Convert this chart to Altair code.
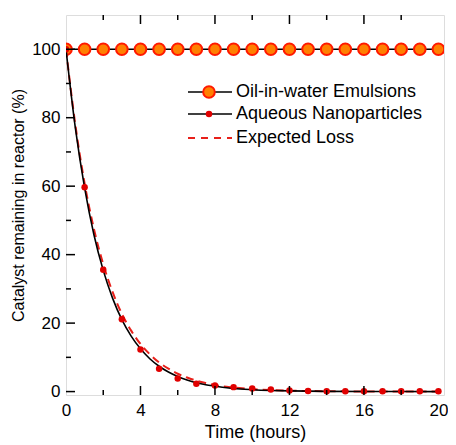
import altair as alt
import pandas as pd

# ---- data ----
hours = list(range(0, 21))
emulsion = [100] * 21
nano_pts = [100, 59.7, 35.6, 21.1, 12.3, 6.7, 3.8, 2.3, 1.8, 1.3, 0.9, 0.6, 0.3, 0.2,
            0.1, 0.1, 0.1, 0.1, 0.1, 0.1, 0.1]

curve_t = [0, 0.5, 1, 1.5, 2, 2.5, 3, 3.5, 4, 4.5, 5, 5.5, 6, 6.5, 7, 7.5, 8,
           9, 10, 11, 12, 13, 14, 16, 18, 20]
fit_curve = [100, 77.1, 59.5, 45.8, 35.4, 27.3, 21.0, 16.2, 12.5, 9.6, 7.4, 5.7,
             4.4, 3.4, 2.6, 2.0, 1.6, 0.9, 0.55, 0.33, 0.2, 0.12, 0.07, 0.03, 0.01, 0.0]
expected = [100, 78.0, 60.8, 47.5, 37.2, 29.1, 22.7, 17.8, 13.9, 10.9, 8.5, 6.7,
            5.2, 4.1, 3.2, 2.5, 1.9, 1.2, 0.72, 0.44, 0.27, 0.16, 0.1, 0.04, 0.01, 0.0]

series_names = ["Oil-in-water Emulsions", "Aqueous Nanoparticles", "Expected Loss"]
x_major = [0, 4, 8, 12, 16, 20]
x_minor = [2, 6, 10, 14, 18]
y_major = [0, 20, 40, 60, 80, 100]
y_minor = [10, 30, 50, 70, 90]

W, H = 378, 380
FONT = "Liberation Sans"
ORANGE = "#FF8000"
RED = "#FF1A00"
DOT = "#E00000"
DASH = "#E8201A"

pts = pd.DataFrame({"t": hours, "emul": emulsion, "nano": nano_pts})
crv = pd.DataFrame({"t": curve_t, "fit": fit_curve, "exp": expected})

xs = alt.Scale(domain=[0, 20.3], nice=False, zero=False)
ys = alt.Scale(domain=[-1, 110], nice=False, zero=False)

x_axis = alt.Axis(values=x_major, title="Time (hours)", ticks=False, domain=False,
                  grid=False, labelFontSize=17, titleFontSize=18, labelPadding=7,
                  titlePadding=5, labelFont=FONT, titleFont=FONT, labelColor="black",
                  titleColor="black", titleFontWeight="normal", format="d",
                  labelFlush=False)
y_axis = alt.Axis(values=y_major, title="Catalyst remaining in reactor (%)", ticks=False,
                  domain=False, grid=False, labelFontSize=17, titleFontSize=16,
                  labelPadding=6, titlePadding=5, labelFont=FONT, titleFont=FONT,
                  labelColor="black", titleColor="black", titleFontWeight="normal",
                  format="d", labelFlush=False)

X = lambda f: alt.X(f, type="quantitative", scale=xs, axis=x_axis)
Y = lambda f: alt.Y(f, type="quantitative", scale=ys, axis=y_axis)

base_p = alt.Chart(pts)
base_c = alt.Chart(crv)

emul_line = base_p.mark_line(color="black", strokeWidth=1.5, clip=True).encode(x=X("t"), y=Y("emul"))
emul_pts = base_p.mark_point(shape="circle", filled=True, fill=ORANGE, stroke=RED,
                             strokeWidth=2, size=135, opacity=1, clip=True).encode(x=X("t"), y=Y("emul"))
fit_line = base_c.mark_line(color="black", strokeWidth=1.6, interpolate="monotone",
                            clip=True).encode(x=X("t"), y=Y("fit"))
exp_line = base_c.mark_line(color=DASH, strokeWidth=2, strokeDash=[8, 5],
                            interpolate="monotone", clip=True).encode(x=X("t"), y=Y("exp"))
nano_dots = base_p.mark_point(shape="circle", filled=True, color=DOT, size=42, opacity=1,
                              clip=True).encode(x=X("t"), y=Y("nano"))

# ---- inward ticks ----
def xticks(vals, length):
    df = pd.DataFrame({"v": vals})
    b = alt.Chart(df).mark_rule(color="black", strokeWidth=1.5)
    bottom = b.encode(x=alt.X("v:Q", scale=xs), y=alt.value(H), y2=alt.value(H - length))
    top = b.encode(x=alt.X("v:Q", scale=xs), y=alt.value(0), y2=alt.value(length))
    return [bottom, top]

def yticks(vals, length):
    df = pd.DataFrame({"v": vals})
    b = alt.Chart(df).mark_rule(color="black", strokeWidth=1.5)
    return [b.encode(y=alt.Y("v:Q", scale=ys), x=alt.value(0), x2=alt.value(length))]

tick_layers = (xticks(x_major[1:-1], 9) + xticks(x_minor, 5) +
               yticks(y_major, 9) + yticks(y_minor, 5))

# ---- legend ----
lx1, lx2, lxm, ltx = 122, 166, 143, 170
rows = [77, 99, 123]
leg = []
leg.append(alt.Chart(pts.head(1)).mark_rule(color="black", strokeWidth=1.5).encode(
    x=alt.value(lx1), x2=alt.value(lx2), y=alt.value(rows[0])))
leg.append(alt.Chart(pts.head(1)).mark_point(shape="circle", filled=True, fill=ORANGE, stroke=RED,
                                             strokeWidth=2, size=135, opacity=1).encode(
    x=alt.value(lxm), y=alt.value(rows[0])))
leg.append(alt.Chart(pts.head(1)).mark_rule(color="black", strokeWidth=1.5).encode(
    x=alt.value(lx1), x2=alt.value(lx2), y=alt.value(rows[1])))
leg.append(alt.Chart(pts.head(1)).mark_point(shape="circle", filled=True, color=DOT, size=42,
                                             opacity=1).encode(
    x=alt.value(lxm), y=alt.value(rows[1])))
leg.append(alt.Chart(pts.head(1)).mark_rule(color=DASH, strokeWidth=2, strokeDash=[7, 6]).encode(
    x=alt.value(lx1), x2=alt.value(lx2), y=alt.value(rows[2])))
for name, ry in zip(series_names, rows):
    leg.append(alt.Chart(pts.head(1)).mark_text(align="left", baseline="middle", font=FONT,
                                                fontSize=18, color="black").encode(
        x=alt.value(ltx), y=alt.value(ry), text=alt.value(name)))

chart = alt.layer(
    emul_line, emul_pts, exp_line, fit_line, nano_dots, *tick_layers, *leg
).properties(
    width=W, height=H,
    autosize=alt.AutoSizeParams(type="none"),
    padding={"left": 58, "top": 7, "right": 4, "bottom": 50},
).configure_view(stroke="black", strokeWidth=1.5).configure(background="white")

chart.save("out.html", embed_options={"renderer": "svg", "actions": False})
